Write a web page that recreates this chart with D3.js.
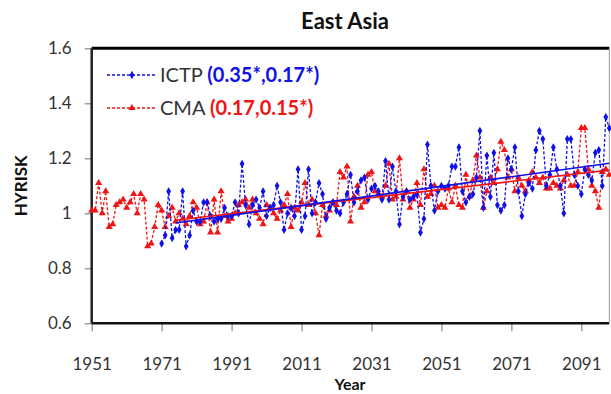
<!DOCTYPE html>
<html>
<head>
<meta charset="utf-8">
<script src="https://d3js.org/d3.v7.min.js"></script>
<style>
  body { margin:0; background:#fff; }
  text { font-family: Lato, "Open Sans", sans-serif; }
</style>
</head>
<body>
<script>
// CMA series, 1951-2099
var cmaStart = 1951;
var cmaValues = [
  1.01, 1.01, 1.11, 1.00, 1.08, 0.95, 0.96, 1.03, 1.04, 1.05,
  1.02, 1.04, 1.07, 1.00, 1.07, 1.05, 0.88, 0.89, 0.95, 1.03,
  1.01, 0.95, 0.99, 1.02, 0.97, 1.00, 0.98, 0.96, 0.99, 1.04,
  1.02, 0.96, 0.97, 1.04, 0.93, 1.05, 0.93, 1.08, 0.99, 0.97,
  0.98, 1.00, 1.03, 1.04, 1.05, 1.02, 1.05, 1.00, 0.98, 0.96,
  1.03, 1.02, 1.00, 0.98, 1.01, 1.03, 1.07, 0.95, 1.02, 1.01,
  1.04, 1.11, 1.03, 1.05, 1.00, 0.92, 1.03, 0.99, 1.01, 1.04,
  1.03, 1.15, 1.13, 1.17, 0.97, 1.06, 1.10, 1.02, 1.04, 1.14,
  1.15, 1.08, 1.07, 1.06, 1.10, 1.18, 1.05, 1.06, 1.20, 1.05,
  1.08, 1.02, 1.05, 1.11, 1.03, 1.16, 1.06, 1.07, 1.10, 1.02,
  1.03, 1.02, 1.09, 1.04, 1.10, 1.03, 1.02, 1.14, 1.06, 1.12,
  1.21, 1.13, 1.02, 1.08, 1.13, 1.11, 1.16, 1.26, 1.23, 1.13,
  1.16, 1.08, 1.13, 1.10, 1.08, 1.12, 1.15, 1.13, 1.11, 1.13,
  1.09, 1.09, 1.11, 1.10, 1.09, 1.12, 1.14, 1.10, 1.10, 1.15,
  1.31, 1.31, 1.16, 1.10, 1.08, 1.02, 1.15, 1.16, 1.14
];

// ICTP series, 1971-2099
var ictpStart = 1971;
var ictpValues = [
  0.89, 0.92, 1.08, 0.91, 0.94, 0.94, 1.08, 0.88, 0.92, 1.01,
  0.97, 0.97, 1.04, 1.04, 0.99, 0.97, 0.98, 0.98, 1.02, 0.99,
  0.99, 1.04, 1.00, 1.18, 1.03, 0.96, 1.03, 1.05, 1.02, 1.08,
  0.99, 1.02, 1.03, 1.10, 1.04, 0.94, 1.00, 1.02, 0.99, 1.16,
  0.94, 0.99, 1.16, 1.00, 1.04, 1.11, 1.07, 0.98, 1.02, 1.04,
  1.01, 1.00, 1.04, 1.07, 1.14, 1.04, 1.08, 1.12, 1.13, 1.05,
  1.09, 1.10, 1.08, 1.05, 1.19, 1.05, 1.17, 1.08, 0.96, 1.06,
  1.08, 1.05, 1.06, 1.07, 0.93, 0.98, 1.25, 1.10, 1.01, 1.08,
  1.10, 1.09, 1.10, 1.17, 1.17, 1.24, 1.08, 1.04, 1.06, 1.07,
  1.13, 1.30, 1.02, 1.21, 1.06, 1.22, 1.03, 1.01, 1.03, 1.20,
  1.16, 1.24, 1.08, 0.99, 1.07, 1.11, 1.09, 1.23, 1.30, 1.27,
  1.10, 1.14, 1.24, 1.16, 1.10, 1.00, 1.27, 1.27, 1.14, 1.10,
  1.07, 1.16, 1.14, 1.12, 1.22, 1.23, 1.10, 1.35, 1.31
];

// linear trend end points
var trendYears = [1975, 2099];
var ictpTrend = [0.965, 1.182];
var cmaTrend = [0.975, 1.157];

var xTicks = [1951, 1971, 1991, 2011, 2031, 2051, 2071, 2091];
var yTicks = [0.6, 0.8, 1.0, 1.2, 1.4, 1.6];

var blue = "#1010e8", red = "#f01414";

var width = 611, height = 394;
var plotL = 91.7, plotR = 609.3, plotT = 48.3, plotB = 323.3;

var x = d3.scaleLinear().domain([1951, 2099]).range([plotL, plotR]);
var y = d3.scaleLinear().domain([0.6, 1.6]).range([plotB, plotT]);

var svg = d3.select("body").append("svg")
    .attr("width", width)
    .attr("height", height);

function toPoints(start, values) {
    return values.map(function (v, i) { return {year: start + i, value: v}; });
}
var cma = toPoints(cmaStart, cmaValues);
var ictp = toPoints(ictpStart, ictpValues);

var line = d3.line()
    .x(function (d) { return x(d.year); })
    .y(function (d) { return y(d.value); });

// axes
var xAxis = d3.axisBottom(x).tickValues(xTicks).tickFormat(d3.format("d"))
    .tickSize(8).tickSizeOuter(0).tickPadding(27);
var yAxis = d3.axisLeft(y).tickValues(yTicks)
    .tickFormat(function (d) { return d === 1 ? "1" : d3.format(".1f")(d); })
    .tickSize(7).tickSizeOuter(0).tickPadding(13);

var gx = svg.append("g").attr("transform", "translate(0," + plotB + ")").call(xAxis);
var gy = svg.append("g").attr("transform", "translate(" + plotL + ",0)").call(yAxis);
[gx, gy].forEach(function (g) {
    g.select(".domain").remove();
    g.selectAll(".tick line").attr("stroke", "#888").attr("stroke-width", 1.2);
    g.selectAll(".tick text").attr("fill", "#333").style("font-size", "17px")
        .style("font-family", "Lato, sans-serif");
});

// plot frame
svg.append("line").attr("x1", plotL).attr("x2", plotR).attr("y1", plotT).attr("y2", plotT)
    .attr("stroke", "#000").attr("stroke-width", 3);
svg.append("line").attr("x1", plotL).attr("x2", plotR).attr("y1", plotB).attr("y2", plotB)
    .attr("stroke", "#111").attr("stroke-width", 2.5);
svg.append("line").attr("x1", plotL).attr("x2", plotL).attr("y1", plotT).attr("y2", plotB)
    .attr("stroke", "#222").attr("stroke-width", 2.5);
svg.append("line").attr("x1", plotR).attr("x2", plotR).attr("y1", plotT).attr("y2", plotB)
    .attr("stroke", "#999").attr("stroke-width", 1);

var plot = svg.append("g");

function drawSeries(data, color, shape, size) {
    plot.append("path").datum(data)
        .attr("d", line)
        .attr("fill", "none")
        .attr("stroke", color)
        .attr("stroke-width", 1.3)
        .attr("stroke-dasharray", "3,2");
    plot.selectAll(null).data(data).enter().append("path")
        .attr("transform", function (d) { return "translate(" + x(d.year) + "," + y(d.value) + ")"; })
        .attr("d", d3.symbol().type(shape).size(size))
        .attr("fill", color);
}

drawSeries(cma, red, d3.symbolTriangle, 22);
drawSeries(ictp, blue, d3.symbolDiamond, 20);

function drawTrend(vals, color) {
    plot.append("line")
        .attr("x1", x(trendYears[0])).attr("y1", y(vals[0]))
        .attr("x2", x(trendYears[1])).attr("y2", y(vals[1]))
        .attr("stroke", color).attr("stroke-width", 1.6);
}
drawTrend(cmaTrend, red);
drawTrend(ictpTrend, blue);

// titles
svg.append("text").attr("x", 345).attr("y", 29).attr("text-anchor", "middle")
    .style("font-size", "22px").style("font-weight", "bold").attr("fill", "#111")
    .text("East Asia");
svg.append("text").attr("x", 350).attr("y", 390).attr("text-anchor", "middle")
    .style("font-size", "16px").style("font-weight", "bold").attr("fill", "#111")
    .text("Year");
svg.append("text").attr("transform", "translate(27," + ((plotT + plotB) / 2) + ") rotate(-90)")
    .attr("text-anchor", "middle")
    .style("font-size", "17px").style("font-weight", "bold").attr("fill", "#111")
    .text("HYRISK");

// legend
var legend = [
    {name: "ICTP", stats: "(0.35*,0.17*)", color: blue, shape: d3.symbolDiamond, size: 20},
    {name: "CMA", stats: "(0.17,0.15*)", color: red, shape: d3.symbolTriangle, size: 22}
];
var lg = svg.selectAll(".legend").data(legend).enter().append("g")
    .attr("transform", function (d, i) { return "translate(107," + (75 + i * 33) + ")"; });
lg.append("line").attr("x1", 0).attr("x2", 50).attr("y1", 0).attr("y2", 0)
    .attr("stroke", function (d) { return d.color; })
    .attr("stroke-width", 1.3).attr("stroke-dasharray", "3,2");
lg.append("path").attr("transform", "translate(25,0)")
    .attr("d", function (d) { return d3.symbol().type(d.shape).size(d.size)(); })
    .attr("fill", function (d) { return d.color; });
var lt = lg.append("text").attr("x", 53).attr("y", 7).style("font-size", "20px");
lt.append("tspan").attr("fill", "#333").text(function (d) { return d.name + " "; });
lt.append("tspan").style("font-weight", "bold")
    .attr("fill", function (d) { return d.color; })
    .text(function (d) { return d.stats; });
</script>
</body>
</html>
